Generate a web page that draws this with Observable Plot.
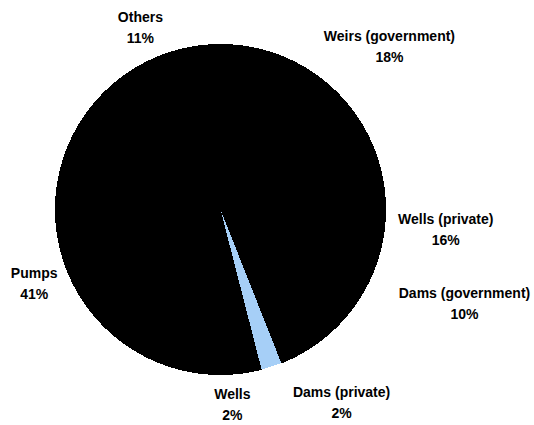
<!DOCTYPE html>
<html><head><meta charset="utf-8">
<script src="https://cdn.jsdelivr.net/npm/d3@7"></script>
<script src="https://cdn.jsdelivr.net/npm/@observablehq/plot@0.6"></script>
<style>body{margin:0;background:#fff}</style>
</head><body><div id="chart"></div>
<script>
// Data
const categories = ["Weirs (government)", "Wells (private)", "Dams (government)", "Dams (private)", "Wells", "Pumps", "Others"];
const shares = [18, 16, 10, 2, 2, 41, 11];
const sliceColors = ["#000000", "#000000", "#000000", "#a6cff7", "#000000", "#000000", "#000000"];

// Label layout: polar angle (deg, clockwise from 12 o'clock) and distance from pie centre
const labelAngles = [45.7, 94.7, 110.8, 147.6, 176.5, 248.7, 336.4];
const labelRadii = [236, 226, 261, 226, 194, 200, 200];

const W = 534, H = 425, R = 165, CX = 220, CY = 209;
const toRad = Math.PI / 180;
const arcs = d3.pie().sort(null).value(d => d)(shares);

const slicePts = [];
arcs.forEach((p, i) => {
  const n = Math.max(2, Math.ceil((p.endAngle - p.startAngle) / (0.5 * toRad)));
  slicePts.push({name: categories[i], color: sliceColors[i], x: 0, y: 0});
  for (let k = 0; k <= n; k++) {
    const a = p.startAngle + (p.endAngle - p.startAngle) * k / n;
    slicePts.push({name: categories[i], color: sliceColors[i], x: R * Math.sin(a), y: R * Math.cos(a)});
  }
});
const darkPts = slicePts.filter(d => d.color === "#000000");
const lightPts = slicePts.filter(d => d.color !== "#000000");

const labels = categories.map((c, i) => ({
  text: `${c}\n${shares[i]}%`,
  x: labelRadii[i] * Math.sin(labelAngles[i] * toRad),
  y: labelRadii[i] * Math.cos(labelAngles[i] * toRad)
}));

const chart = Plot.plot({
  width: W,
  height: H,
  margin: 0,
  x: {domain: [-CX, W - CX], axis: null},
  y: {domain: [CY - H, CY], axis: null},
  color: {type: "identity"},
  style: {fontFamily: "'Liberation Sans', Arial, sans-serif", background: "#fff"},
  marks: [
    Plot.line(darkPts, {x: "x", y: "y", z: "name", fill: "color", stroke: "color", strokeWidth: 1, curve: "linear", shapeRendering: "crispEdges"}),
    Plot.line(lightPts, {x: "x", y: "y", z: "name", fill: "color", stroke: null, curve: "linear", shapeRendering: "crispEdges"}),
    Plot.text(labels, {x: "x", y: "y", text: "text", fontSize: 14, fontWeight: "bold", lineHeight: 1.5, fill: "#000", textAnchor: "middle"})
  ]
});
document.getElementById("chart").appendChild(chart);
</script>
</body></html>
